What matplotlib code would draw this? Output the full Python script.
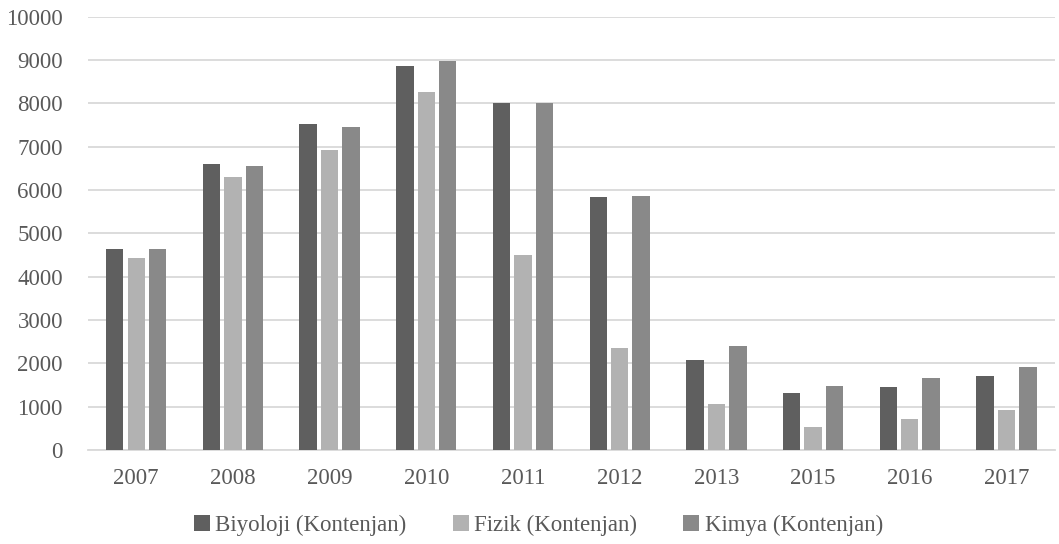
import matplotlib.pyplot as plt
import numpy as np

years = ["2007", "2008", "2009", "2010", "2011", "2012", "2013", "2015", "2016", "2017"]
biyoloji = [4640, 6605, 7535, 8870, 8000, 5850, 2080, 1315, 1460, 1700]
fizik = [4420, 6310, 6930, 8260, 4500, 2360, 1055, 540, 710, 915]
kimya = [4640, 6560, 7460, 8970, 8000, 5870, 2395, 1480, 1670, 1915]

labels = ["Biyoloji (Kontenjan)", "Fizik (Kontenjan)", "Kimya (Kontenjan)"]
colors = ["#5f5f5f", "#b2b2b2", "#898989"]

plt.rcParams['font.family'] = ['Liberation Serif', 'DejaVu Serif']

fig = plt.figure(figsize=(10.59, 5.44), dpi=100)
ax = fig.add_axes([0.083, 0.173, 0.913, 0.796])

x = np.arange(len(years))
slot = 0.222
width = 0.18
for i, (vals, lab, col) in enumerate(zip([biyoloji, fizik, kimya], labels, colors)):
    ax.bar(x + (i - 1) * slot, vals, width, color=col, label=lab, zorder=3)

ax.set_xlim(-0.5, len(years) - 0.5)
ax.set_ylim(0, 10000)
ax.set_yticks(np.arange(0, 10001, 1000))
ax.set_xticks(x)
ax.set_xticklabels(years)
ax.yaxis.grid(True, color="#d9d9d9", linewidth=1.3, zorder=0)
for s in ["top", "right", "left"]:
    ax.spines[s].set_visible(False)
ax.spines["bottom"].set_color("#d9d9d9")
ax.spines["bottom"].set_linewidth(1.3)
ax.tick_params(axis="both", length=0, labelsize=16.5, colors="#595959")
ax.tick_params(axis="x", pad=13)
ax.tick_params(axis="y", pad=18)

leg = ax.legend(loc="upper center", bbox_to_anchor=(0.466, -0.103), ncol=3, frameon=False,
                fontsize=16.5, handlelength=0.7, handleheight=0.7, handletextpad=0.25,
                columnspacing=2.0)
for t in leg.get_texts():
    t.set_color("#595959")

fig.savefig("out.png", dpi=100)
